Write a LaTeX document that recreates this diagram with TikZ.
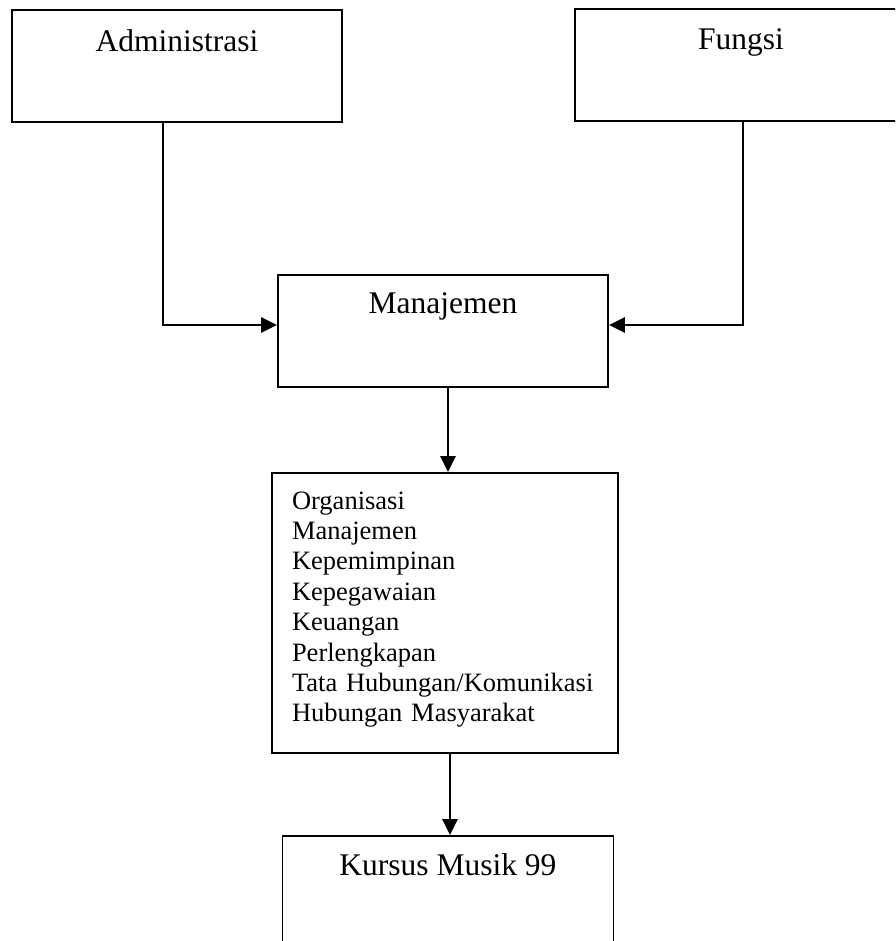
\documentclass[tikz,border=0pt]{standalone}
\usepackage{fontspec}
\setmainfont{Liberation Serif}
\usetikzlibrary{arrows.meta}
\tikzset{
  kotak/.style={draw, line width=1.8pt, inner sep=0pt, minimum width=#1}, % untuk kotak
  judul/.style={font=\fontsize{31.5}{36}\selectfont}, % teks judul kotak
  daftar/.style={font=\fontsize{26.5}{30.4}\selectfont, align=left}, % teks daftar
  panah/.style={line width=2.4pt, -{Triangle[length=16pt,width=15pt]}} % untuk panah
}

\begin{document}
\begin{tikzpicture}[x=1pt, y=-1pt]
\useasboundingbox (0,0) rectangle (895,941);
\clip (0,0) rectangle (895,941);

%Kotak
\node[kotak=330pt, judul, text height=42pt, text depth=70pt] (adm) at (177,66) {Administrasi};
\node[kotak=332pt, judul, text height=41pt, text depth=71pt] (fng) at (741,65) {Fungsi};
\node[kotak=330pt, judul, text height=38pt, text depth=74pt] (man) at (443,331) {Manajemen};
\node[kotak=346pt, daftar, text width=306pt, inner xsep=20pt,
      text height=36pt, text depth=244pt] (isi) at (445,613)
  {Organisasi\\ Manajemen\\ Kepemimpinan\\ Kepegawaian\\ Keuangan\\
   Perlengkapan\\ Tata Hubungan/Komunikasi\\ Hubungan Masyarakat};
\node[kotak=331pt, judul, text height=39pt, text depth=115pt] (kur) at (448,913) {Kursus Musik 99};

%Panah
\draw[panah] ([xshift=-14pt]adm.south) |- ([yshift=6pt]man.west);
\draw[panah] ([xshift=2pt]fng.south) |- ([yshift=6pt]man.east);
\draw[panah] ([xshift=5pt]man.south) -- ([xshift=5pt]man.south |- isi.north);
\draw[panah] ([xshift=5pt]isi.south) -- ([xshift=5pt]isi.south |- kur.north);

\end{tikzpicture}
\end{document}
